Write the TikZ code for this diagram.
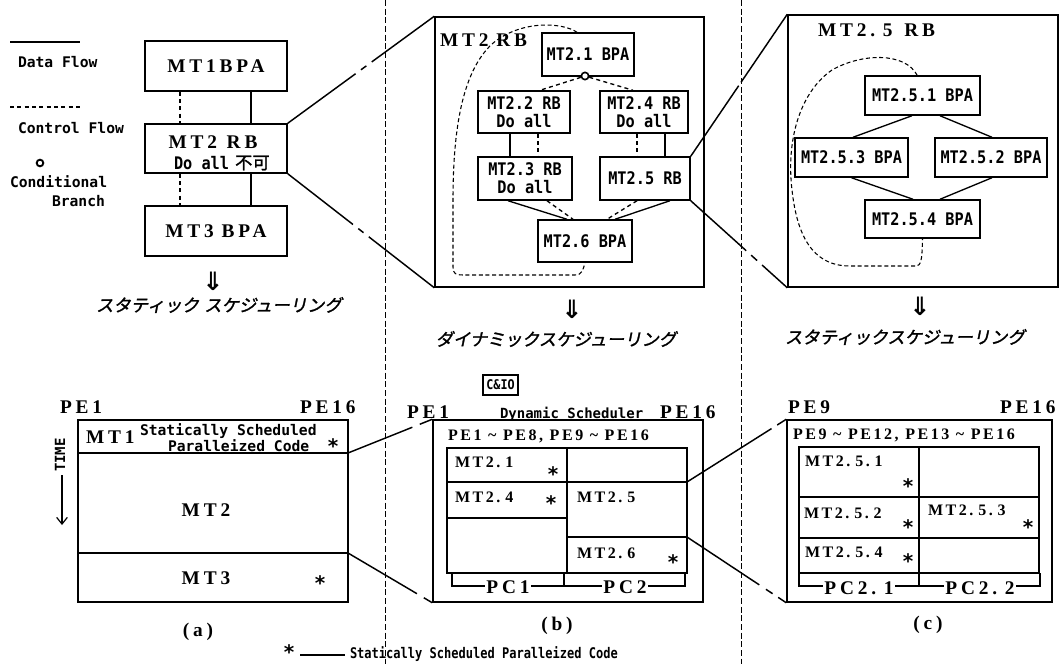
\documentclass[tikz,border=0pt]{standalone}
\usepackage{fontspec}
\usetikzlibrary{arrows.meta}
\setmainfont{Liberation Serif}
\newfontfamily\swfam{Liberation Serif}[LetterSpace=20]
\newfontfamily\swnfam{Liberation Serif}[LetterSpace=16]
\newfontfamily\mbnfam{DejaVu Sans Mono}
\newfontfamily\mbcfam{DejaVu Sans Mono}[FakeStretch=0.88]
\newfontfamily\mbdfam{DejaVu Sans Mono}[FakeStretch=0.82]
\newfontfamily\jpfam{Noto Sans CJK JP}[FakeSlant=0.2,FakeBold=1.5]
\newfontfamily\jpufam{Noto Sans CJK JP}[FakeBold=1.5]
\newfontfamily\djfam{DejaVu Sans}
\newcommand\fsw{\swfam\bfseries\fontsize{14.5}{16}\selectfont}
\newcommand\fswm{\swnfam\bfseries\fontsize{12}{13}\selectfont}
\newcommand\fmb{\mbnfam\bfseries\fontsize{11}{12}\selectfont}
\newcommand\fmc{\mbcfam\bfseries\fontsize{13}{13.5}\selectfont}
\newcommand\fmd{\mbdfam\bfseries\fontsize{11}{12}\selectfont}
\newcommand\fjp{\jpfam\fontsize{13}{14}\selectfont}
\newcommand\fst{\djfam\bfseries\fontsize{15}{15}\selectfont}
\newcommand\farr{\djfam\bfseries\fontsize{19}{19}\selectfont}
\newcommand\tld{\char"7E\relax}
\tikzset{
  box/.style={draw,line width=1.1pt,inner sep=0pt,rectangle},
  txt/.style={inner sep=0pt,outer sep=0pt},
  dflow/.style={line width=1pt},
  cflow/.style={line width=1pt,dash pattern=on 3pt off 2.5pt},
  gridln/.style={line width=1pt},
  divider/.style={line width=0.7pt,dash pattern=on 4.5pt off 2pt},
  dloop/.style={line width=0.8pt,dash pattern=on 3pt off 2pt},
  zoomln/.style={line width=1.1pt},
}
\begin{document}
\begin{tikzpicture}[x=0.75pt,y=-0.75pt]
\path[fill=white] (0,0) rectangle (1064,664);
\useasboundingbox (0,0) rectangle (1064,664);

% ---------- legend ----------
\coordinate (lgA) at (10,42); \coordinate (lgB) at (80,42);
\draw[dflow] (lgA) -- (lgB);
\node[txt,anchor=west,font=\fmb] (ldf) at (18,62) {Data Flow};
\coordinate (lgC) at (10,107); \coordinate (lgD) at (80,107);
\draw[cflow] (lgC) -- (lgD);
\node[txt,anchor=west,font=\fmb] (lcf) at (18,128) {Control Flow};
\node[draw,circle,line width=1.4pt,inner sep=0pt,minimum size=5pt] (lco) at (40,163) {};
\node[txt,anchor=west,font=\fmb] (lcb) at (10,182) {Conditional};
\node[txt,anchor=west,font=\fmb] (lbr) at (52,201) {Branch};

% ---------- left graph ----------
\node[box,minimum width=106.5pt,minimum height=37.5pt,font=\fsw] (mt1) at (216,66) {MT1BPA};
\node[box,minimum width=106.5pt,minimum height=36.75pt] (mt2) at (216,148.5) {};
\node[txt,font=\fsw] (mt2a) at (213,142) {MT2\hspace{0.5em}RB};
\node[txt,anchor=west] (mt2b) at (174,163) {{\fmc Do all}\hspace{0.45em}{\jpufam\fontsize{13}{14}\selectfont 不可}};
\node[box,minimum width=106.5pt,minimum height=37.5pt,font=\fsw] (mt3) at (216,231) {MT3\hspace{0.4em}BPA};
\draw[cflow] ([xshift=-27pt]mt1.south) -- ([xshift=-27pt]mt2.north);
\draw[dflow] ([xshift=26.25pt]mt1.south) -- ([xshift=26.25pt]mt2.north);
\draw[cflow] ([xshift=-27pt]mt2.south) -- ([xshift=-27pt]mt3.north);
\draw[dflow] ([xshift=26.25pt]mt2.south) -- ([xshift=26.25pt]mt3.north);
\node[txt,font=\farr] (ar1) at (213,281) {⇓};
\node[txt,font=\fjp] (jp1) at (219,305) {スタティック\hspace{0.3em}スケジューリング};

% ---------- dividers ----------
\coordinate (dv1t) at (385,0); \coordinate (dv1b) at (385,664);
\coordinate (dv2t) at (741,0); \coordinate (dv2b) at (741,664);
\draw[divider] (dv1t) -- (dv1b);
\draw[divider] (dv2t) -- (dv2b);

% ---------- middle graph ----------
\node[box,minimum width=201.75pt,minimum height=202.5pt] (big2) at (569.5,152) {};
\node[txt,anchor=west,font=\fsw] (lb2) at (440,40) {MT2\hspace{0.4em}RB};
\node[box,fill=white,minimum width=69pt,minimum height=32.25pt,font=\fmc] (m21) at (588,54.5) {MT2.1 BPA};
\node[box,minimum width=69pt,minimum height=31.5pt,font=\fmc,align=center] (m22) at (524,112) {MT2.2 RB\\Do all};
\node[box,minimum width=66pt,minimum height=31.5pt,font=\fmc,align=center] (m24) at (644,112) {MT2.4 RB\\Do all};
\node[box,minimum width=70.5pt,minimum height=32.25pt,font=\fmc,align=center] (m23) at (525,178.5) {MT2.3 RB\\Do all};
\node[box,minimum width=67.5pt,minimum height=32.25pt,font=\fmc] (m25) at (645,178.5) {MT2.5 RB};
\node[box,minimum width=70.5pt,minimum height=31.5pt,font=\fmc] (m26) at (585,241) {MT2.6 BPA};
\node[draw,circle,line width=1.2pt,fill=white,inner sep=0pt,minimum size=5.5pt] (cb) at (585,76) {};
\draw[cflow] (cb) -- ([xshift=12pt]m22.north);
\draw[cflow] (cb) -- ([xshift=-8.25pt]m24.north);
\draw[dflow] ([xshift=-10.5pt]m22.south) -- ([xshift=-11.25pt]m23.north);
\draw[cflow] ([xshift=10.5pt]m22.south) -- ([xshift=9.75pt]m23.north);
\draw[cflow] ([xshift=-5.25pt]m24.south) -- ([xshift=-6pt]m25.north);
\draw[dflow] ([xshift=15.75pt]m24.south) -- ([xshift=15pt]m25.north);
\draw[dflow] ([xshift=-12.75pt]m23.south) -- ([xshift=-13.5pt]m26.north);
\draw[cflow] ([xshift=16.5pt]m23.south) -- ([xshift=-9pt]m26.north);
\draw[cflow] ([xshift=-6pt]m25.south) -- ([xshift=16.5pt]m26.north);
\draw[dflow] ([xshift=18.75pt]m25.south) -- ([xshift=22.5pt]m26.north);
\draw[dloop] ([xshift=-8.25pt]m21.north) .. controls (562,22) and (520,20) .. (492,44)
  .. controls (462,72) and (453,130) .. (453,200) -- (453,267)
  .. controls (453,274) and (456,275) .. (463,275) -- (575,275)
  .. controls (582,275) and (583,270) .. (m26.south);
\draw[zoomln,dash pattern=on 63pt off 5pt on 5pt off 5pt on 300pt] (mt2.north east) -- (big2.north west);
\draw[zoomln,dash pattern=on 62pt off 5pt on 5pt off 5pt on 300pt] (mt2.south east) -- (big2.south west);
\node[txt,font=\farr] (ar2) at (572,309) {⇓};
\node[txt,font=\fjp] (jp2) at (556,339) {ダイナミックスケジューリング};

% ---------- right graph ----------
\node[box,minimum width=202.5pt,minimum height=204pt] (big25) at (923,151) {};
\node[txt,anchor=west,font=\fsw] (lb25) at (818,30) {MT2.\hspace{0.4em}5\hspace{0.6em}RB};
\node[box,minimum width=86.25pt,minimum height=29.25pt,font=\fmc] (r1) at (922.5,95.5) {MT2.5.1 BPA};
\node[box,minimum width=84.75pt,minimum height=29.25pt,font=\fmc] (r3) at (851.5,157.5) {MT2.5.3 BPA};
\node[box,minimum width=84pt,minimum height=29.25pt,font=\fmc] (r2) at (991,157.5) {MT2.5.2 BPA};
\node[box,minimum width=86.25pt,minimum height=28.5pt,font=\fmc] (r4) at (922.5,219) {MT2.5.4 BPA};
\draw[dflow] ([xshift=-7.9pt]r1.south) -- ([xshift=1.1pt]r3.north);
\draw[dflow] ([xshift=13.1pt]r1.south) -- ([xshift=0.75pt]r2.north);
\draw[dflow] (r3.south) -- ([xshift=-7.1pt]r4.north);
\draw[dflow] ([xshift=0.75pt]r2.south) -- ([xshift=13.1pt]r4.north);
\draw[dloop] ([xshift=-4pt]r1.north) .. controls (905,52) and (862,53) .. (832,70)
  .. controls (800,92) and (786,140) .. (792,190)
  .. controls (797,235) and (812,266) .. (850,266) -- (915,266)
  .. controls (921,266) and (922,262) .. (r4.south);
\draw[zoomln,dash pattern=on 64pt off 3pt on 300pt] (m25.north east) -- (big25.north west);
\draw[zoomln,dash pattern=on 56pt off 5pt on 6pt off 5pt on 300pt] (m25.south east) -- (big25.south west);
\node[txt,font=\farr] (ar3) at (920,306) {⇓};
\node[txt,font=\fjp] (jp3) at (905,337) {スタティックスケジューリング};

% ---------- panel (a) ----------
\node[box,minimum width=202.5pt,minimum height=136.5pt] (pa) at (213,511) {};
\coordinate (a1l) at (78,453); \coordinate (a1r) at (348,453);
\coordinate (a2l) at (78,553); \coordinate (a2r) at (348,553);
\draw[gridln] (a1l) -- (a1r);
\draw[gridln] (a2l) -- (a2r);
\node[txt,anchor=west,font=\fsw] (pa1) at (60,407) {PE1};
\node[txt,anchor=west,font=\fsw] (pa16) at (300,407) {PE16};
\node[txt,anchor=west,font=\fsw] (amt1) at (86,437) {MT1};
\node[txt,anchor=west,font=\fmb] (ass) at (140,431) {Statically Scheduled};
\node[txt,anchor=west,font=\fmb] (apc) at (168,446) {Paralleized Code};
\node[txt,font=\fst] (ast1) at (333,446) {*};
\node[txt,font=\fsw] (amt2) at (206,510) {MT2};
\node[txt,font=\fsw] (amt3) at (206,578) {MT3};
\node[txt,font=\fst] (ast2) at (320,583) {*};
\node[txt,rotate=90,font=\mbnfam\bfseries\fontsize{10.5}{11}\selectfont] (time) at (60,455) {TIME};
\coordinate (ta1) at (62,475); \coordinate (ta2) at (62,525);
\draw[line width=0.9pt,-{Straight Barb[length=5pt,width=8pt,line width=0.9pt]}] (ta1) -- (ta2);
\node[txt,font=\fsw] (lba) at (198,632) {(a)};

% ---------- panel (b) ----------
\node[box,minimum width=26.25pt,minimum height=15pt,font=\mbcfam\bfseries\fontsize{10}{10}\selectfont] (cio) at (500.5,385) {C\&IO};
\node[txt,anchor=west,font=\fsw] (pb1) at (407,412) {PE1};
\node[txt,anchor=west,font=\mbnfam\bfseries\fontsize{10.5}{11}\selectfont] (dyn) at (500,414) {Dynamic Scheduler};
\node[txt,anchor=west,font=\fsw] (pb16) at (660,412) {PE16};
\node[box,minimum width=202.5pt,minimum height=136.5pt] (pb) at (568,511) {};
\node[txt,anchor=west,font=\fswm] (pbh) at (448,436) {PE1 \tld{} PE8, PE9 \tld{} PE16};
\coordinate (b00) at (447,448); \coordinate (b11) at (687,573);
\coordinate (bmt) at (567,448); \coordinate (bmb) at (567,573);
\coordinate (bh1l) at (447,482); \coordinate (bh1r) at (687,482);
\coordinate (bh2l) at (447,518); \coordinate (bh2r) at (567,518);
\coordinate (bh3l) at (567,537); \coordinate (bh3r) at (687,537);
\draw[gridln] (b00) rectangle (b11);
\draw[gridln] (bmt) -- (bmb);
\draw[gridln] (bh1l) -- (bh1r);
\draw[gridln] (bh2l) -- (bh2r);
\draw[gridln] (bh3l) -- (bh3r);
\node[txt,anchor=west,font=\fswm] (b21) at (455,462) {MT2.\hspace{0.3em}1};
\node[txt,font=\fst] (bs1) at (553,474) {*};
\node[txt,anchor=west,font=\fswm] (b24) at (455,497) {MT2.\hspace{0.3em}4};
\node[txt,font=\fst] (bs2) at (551,503) {*};
\node[txt,anchor=west,font=\fswm] (b25) at (577,497) {MT2.\hspace{0.3em}5};
\node[txt,anchor=west,font=\fswm] (b26) at (577,553) {MT2.\hspace{0.3em}6};
\node[txt,font=\fst] (bs3) at (673,562) {*};
\coordinate (bk1) at (452,573); \coordinate (bk2) at (452,586);
\coordinate (bk3) at (685,586); \coordinate (bk4) at (685,573);
\coordinate (bk5) at (564,586); \coordinate (bk6) at (564,573);
\draw[gridln] (bk1) -- (bk2) -- (bk3) -- (bk4);
\draw[gridln] (bk5) -- (bk6);
\node[txt,fill=white,inner xsep=1pt,font=\fsw] (pc1) at (508,587) {PC1};
\node[txt,fill=white,inner xsep=1pt,font=\fsw] (pc2) at (625,587) {PC2};
\node[txt,font=\fsw] (lbb) at (557,626) {(b)};
\coordinate (za1) at (348,453); \coordinate (za2) at (348,553);
\draw[zoomln,dash pattern=on 52pt off 6pt on 300pt] (za1) -- (pb.north west);
\draw[zoomln,dash pattern=on 60pt off 6pt on 300pt] (za2) -- (pb.south west);

% ---------- panel (c) ----------
\node[txt,anchor=west,font=\fsw] (pc9) at (788,407) {PE9};
\node[txt,anchor=west,font=\fsw] (pc16) at (1000,407) {PE16};
\node[box,minimum width=198.75pt,minimum height=136.5pt] (pcx) at (919.5,511) {};
\node[txt,anchor=west,font=\fswm] (pch) at (793,435) {PE9 \tld{} PE12, PE13 \tld{} PE16};
\coordinate (c00) at (799,447); \coordinate (c11) at (1039,573);
\coordinate (cmt) at (919,447); \coordinate (cmb) at (919,573);
\coordinate (ch1l) at (799,497); \coordinate (ch1r) at (1039,497);
\coordinate (ch2l) at (799,538); \coordinate (ch2r) at (1039,538);
\draw[gridln] (c00) rectangle (c11);
\draw[gridln] (cmt) -- (cmb);
\draw[gridln] (ch1l) -- (ch1r);
\draw[gridln] (ch2l) -- (ch2r);
\node[txt,anchor=west,font=\fswm] (c51) at (805,461) {MT2.\hspace{0.3em}5.\hspace{0.3em}1};
\node[txt,font=\fst] (cs1) at (908,486) {*};
\node[txt,anchor=west,font=\fswm] (c52) at (804,513) {MT2.\hspace{0.3em}5.\hspace{0.3em}2};
\node[txt,font=\fst] (cs2) at (908,527) {*};
\node[txt,anchor=west,font=\fswm] (c53) at (928,510) {MT2.\hspace{0.3em}5.\hspace{0.3em}3};
\node[txt,font=\fst] (cs3) at (1028,527) {*};
\node[txt,anchor=west,font=\fswm] (c54) at (805,552) {MT2.\hspace{0.3em}5.\hspace{0.3em}4};
\node[txt,font=\fst] (cs4) at (908,561) {*};
\coordinate (ck1) at (799,573); \coordinate (ck2) at (799,586);
\coordinate (ck3) at (1040,586); \coordinate (ck4) at (1040,573);
\coordinate (ck5) at (919,586); \coordinate (ck6) at (919,573);
\draw[gridln] (ck1) -- (ck2) -- (ck3) -- (ck4);
\draw[gridln] (ck5) -- (ck6);
\node[txt,fill=white,inner xsep=1pt,font=\fsw] (pc21) at (859,588) {PC2.\hspace{0.4em}1};
\node[txt,fill=white,inner xsep=1pt,font=\fsw] (pc22) at (980,588) {PC2.\hspace{0.4em}2};
\node[txt,font=\fsw] (lbc) at (928,625) {(c)};
\coordinate (zb1) at (687,482); \coordinate (zb2) at (687,537);
\draw[zoomln,dash pattern=on 75pt off 5pt on 300pt] (zb1) -- (pcx.north west);
\draw[zoomln,dash pattern=on 65pt off 6pt on 6pt off 5pt on 300pt] (zb2) -- (pcx.south west);

% ---------- footer ----------
\node[txt,font=\fst] (fst) at (289,652) {*};
\coordinate (fl1) at (300,655); \coordinate (fl2) at (345,655);
\draw[line width=0.9pt] (fl1) -- (fl2);
\node[txt,anchor=west,font=\fmd] (ftx) at (350,654) {Statically Scheduled Paralleized Code};
\end{tikzpicture}
\end{document}
